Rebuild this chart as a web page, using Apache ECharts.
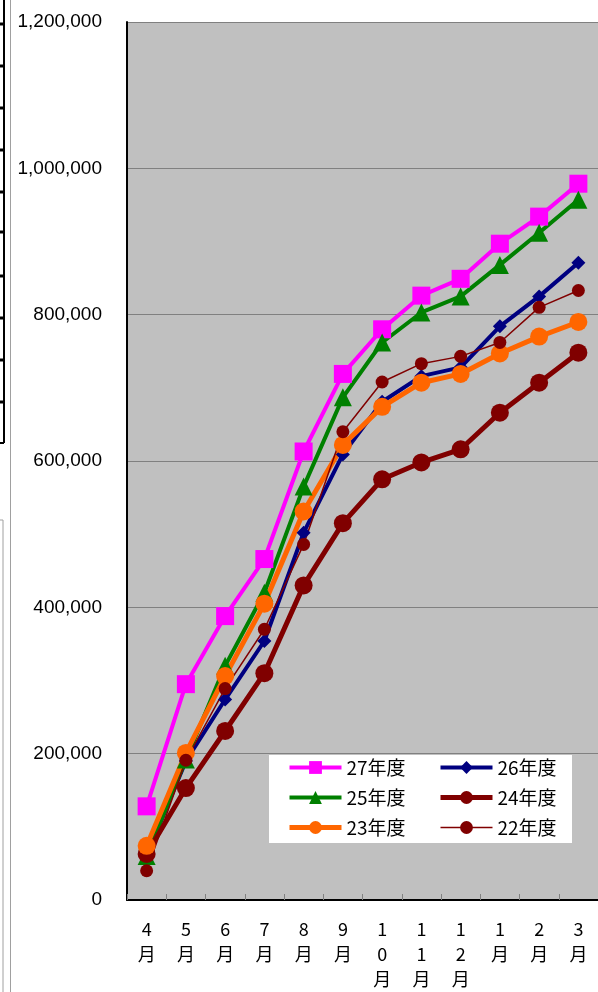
<!DOCTYPE html>
<html><head><meta charset="utf-8">
<script src="https://cdn.jsdelivr.net/npm/echarts@6/dist/echarts.min.js"></script>
<style>html,body{margin:0;padding:0;background:#fff}#c{width:598px;height:992px}</style>
</head><body><div id="c"></div>
<script>
const categories = ['4月','5月','6月','7月','8月','9月','10月','11月','12月','1月','2月','3月'];
const yTicks = [0, 200000, 400000, 600000, 800000, 1000000, 1200000];
const fy27 = [128000, 295000, 388000, 466000, 613000, 719000, 780000, 826000, 849000, 897000, 934000, 979000];
const fy26 = [60000, 190000, 274000, 354000, 502000, 609000, 681000, 716000, 728000, 784000, 825000, 871000];
const fy25 = [60000, 192000, 320000, 420000, 565000, 687000, 762000, 803000, 825000, 868000, 912000, 957000];
const fy24 = [63000, 153000, 231000, 310000, 430000, 515000, 575000, 598000, 616000, 666000, 707000, 748000];
const fy23 = [74000, 201000, 306000, 405000, 531000, 622000, 674000, 707000, 719000, 747000, 770000, 790000];
const fy22 = [40000, 191000, 289000, 370000, 486000, 640000, 708000, 733000, 743000, 762000, 810000, 833000];
const names = ['27年度','26年度','25年度','24年度','23年度','22年度'];
const widths = [4, 4, 4, 5, 5, 1.5];

const chart = echarts.init(document.getElementById('c'));
function mk(name, data, color, width, symbol, size) {
  return {
    name, type: 'line', data, symbol, symbolSize: size, showSymbol: true,
    lineStyle: { color, width }, itemStyle: { color, borderWidth: 0 },
    emphasis: { disabled: true }, animation: false
  };
}
const leftMarks = [24, 66, 108, 150, 192, 232, 276, 318, 360, 402];
const graphics = [
  { type: 'line', shape: { x1: 10.5, y1: 0, x2: 10.5, y2: 992 }, style: { stroke: '#a0a0a0', lineWidth: 1 } },
  { type: 'line', shape: { x1: 4, y1: 0, x2: 4, y2: 443 }, style: { stroke: '#000', lineWidth: 2 } },
  { type: 'line', shape: { x1: 0, y1: 443, x2: 4, y2: 443 }, style: { stroke: '#000', lineWidth: 2 } },
  { type: 'line', shape: { x1: 3, y1: 520, x2: 3, y2: 992 }, style: { stroke: '#a0a0a0', lineWidth: 1 } },
  { type: 'line', shape: { x1: 0, y1: 520, x2: 3, y2: 520 }, style: { stroke: '#a0a0a0', lineWidth: 1 } },
  { type: 'rect', z: 3, shape: { x: 269, y: 755, width: 303, height: 88 }, style: { fill: '#fff' } }
];
leftMarks.forEach(y => graphics.push({ type: 'line', shape: { x1: 0, y1: y, x2: 4, y2: y }, style: { stroke: '#000', lineWidth: 3 } }));

const legendText = { fontSize: 19, fontFamily: 'Noto Sans CJK JP', color: '#000' };
const legItem = i => ({ name: names[i], lineStyle: { width: widths[i] } });
chart.setOption({
  animation: false,
  backgroundColor: '#fff',
  graphic: { elements: graphics },
  legend: [
    { data: [legItem(0), legItem(2), legItem(4)], orient: 'vertical', left: 287, top: 758, padding: 0, itemWidth: 52, itemHeight: 16, itemGap: 11, textStyle: legendText, selectedMode: false, z: 5 },
    { data: [legItem(1), legItem(3), legItem(5)], orient: 'vertical', left: 438, top: 758, padding: 0, itemWidth: 52, itemHeight: 16, itemGap: 11, textStyle: legendText, selectedMode: false, z: 5 }
  ],
  grid: { left: 127, top: 22, right: -2, bottom: 91, show: true, backgroundColor: '#C0C0C0', borderWidth: 0 },
  xAxis: {
    type: 'category', data: categories, boundaryGap: true,
    axisLine: { lineStyle: { color: '#000', width: 2 } },
    axisTick: { show: true, inside: true, length: 6, lineStyle: { color: '#808080' } },
    axisLabel: {
      interval: 0, margin: 17, fontSize: 18, lineHeight: 25, fontFamily: 'Noto Sans CJK JP', color: '#000',
      formatter: v => v.split('').join('\n')
    }
  },
  yAxis: {
    type: 'value', min: yTicks[0], max: yTicks[yTicks.length - 1], interval: yTicks[1] - yTicks[0],
    axisLine: { show: true, lineStyle: { color: '#000', width: 2 } },
    axisTick: { show: false },
    splitLine: { lineStyle: { color: '#808080', width: 1 } },
    axisLabel: { margin: 25, fontSize: 19, fontFamily: 'Liberation Sans', color: '#000',
      formatter: v => v.toLocaleString('en-US') }
  },
  series: [
    mk(names[0], fy27, '#FF00FF', widths[0], 'rect', 18),
    mk(names[1], fy26, '#000080', widths[1], 'diamond', 14),
    mk(names[2], fy25, '#008000', widths[2], 'triangle', 18),
    mk(names[3], fy24, '#800000', widths[3], 'circle', 18),
    mk(names[4], fy23, '#FF6600', widths[4], 'circle', 18),
    mk(names[5], fy22, '#800000', widths[5], 'circle', 13)
  ]
});
</script></body></html>
